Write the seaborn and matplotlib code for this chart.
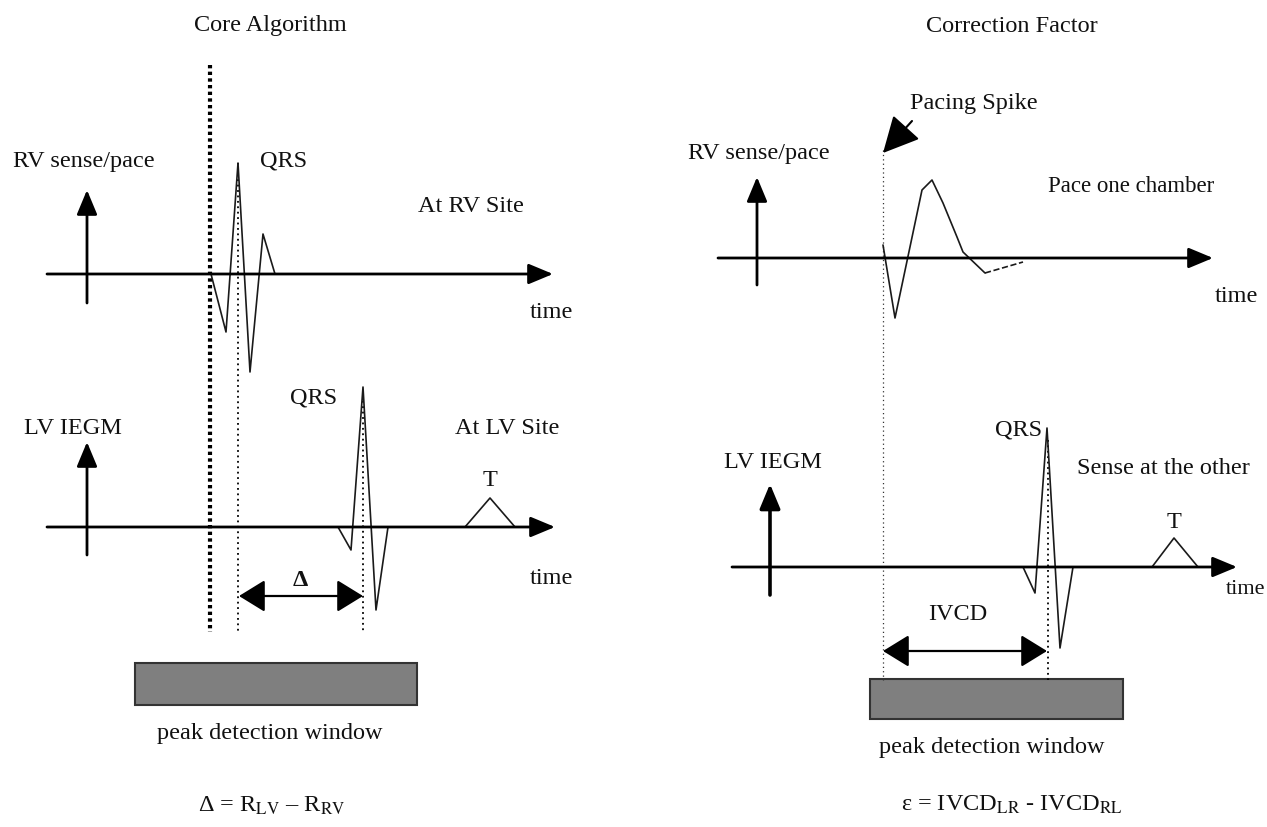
import matplotlib
matplotlib.use("Agg")
import matplotlib.pyplot as plt
import seaborn as sns
import pandas as pd
from matplotlib.patches import Rectangle

sns.set_theme(style="white")
plt.rcParams["font.family"] = ["Liberation Serif", "DejaVu Serif"]
plt.rcParams["mathtext.fontset"] = "stix"

# ---------------- data (diagram coordinates, pixel space, y downwards) ----------------
# Core algorithm: RV electrogram
core_rv_t = [211, 226, 238, 250, 263, 275]
core_rv_v = [274, 332, 163, 372, 234, 274]
# Core algorithm: LV electrogram with T wave
core_lv_t = [338, 351, 363, 376, 388, 465, 490, 515]
core_lv_v = [527, 550, 387, 610, 527, 527, 498, 527]
# Correction factor: paced RV response (solid part, then dashed tail)
corr_rv_t = [883, 895, 922, 932, 943, 957, 963, 985]
corr_rv_v = [245, 318, 190, 180, 203, 237, 252, 273]
corr_rv_tail_t = [985, 1023]
corr_rv_tail_v = [273, 262]
# Correction factor: sensed LV response with T wave
corr_lv_t = [1023, 1035, 1047, 1060, 1073, 1152, 1174, 1198]
corr_lv_v = [567, 593, 428, 648, 567, 567, 538, 567]

titles = ["Core Algorithm", "Correction Factor"]
window_label = "peak detection window"

fig = plt.figure(figsize=(12.67, 8.27), dpi=100)
ax = fig.add_axes([0, 0, 1, 1])
ax.set_xlim(0, 1267)
ax.set_ylim(827, 0)
ax.axis("off")

K = "black"
FS = 17.5


def wave(t, v, **kw):
    df = pd.DataFrame({"t": t, "v": v})
    sns.lineplot(data=df, x="t", y="v", sort=False, estimator=None, ax=ax,
                 color=kw.pop("color", "#1a1a1a"), lw=kw.pop("lw", 1.2), **kw)


def arrow(x0, y0, x1, y1, style="-|>,head_length=0.6,head_width=0.25", lw=2.0, ms=25, color=K):
    ax.annotate("", xy=(x1, y1), xytext=(x0, y0),
                arrowprops=dict(arrowstyle=style, color=color, lw=lw,
                                mutation_scale=ms, shrinkA=0, shrinkB=0))


def txt(x, y, s, ha="left", fs=FS, **kw):
    ax.text(x, y, s, ha=ha, va="center", fontsize=fs, color="#111", **kw)


# ---------------- Left panel: Core Algorithm ----------------
txt(270, 26, titles[0], ha="center")
# dotted markers
ax.plot([210, 210], [65, 632], color=K, lw=3.0, ls=(0, (0.8, 0.8)))
ax.plot([238, 238], [163, 632], color=K, lw=1.3, ls=(0, (1, 2)))
ax.plot([363, 363], [390, 632], color=K, lw=1.3, ls=(0, (1, 2)))

# RV axes
arrow(47, 274, 553, 274)
arrow(87, 303, 87, 190)
wave(core_rv_t, core_rv_v)
txt(13, 161, "RV sense/pace")
txt(260, 161, "QRS")
txt(418, 206, "At RV Site")
txt(530, 312, "time")

# LV axes
arrow(47, 527, 555, 527)
arrow(87, 555, 87, 442)
wave(core_lv_t, core_lv_v)
txt(24, 429, "LV IEGM")
txt(290, 398, "QRS")
txt(455, 429, "At LV Site")
txt(490, 481, "T", ha="center")
txt(530, 578, "time")

# Delta arrow
arrow(239, 596, 363, 596, style="<|-|>,head_length=0.65,head_width=0.4", lw=1.6, ms=25)
txt(300, 581, "Δ", ha="center", fontweight="bold")

# window
ax.add_patch(Rectangle((135, 663), 282, 42, facecolor="#7f7f7f", edgecolor="#333", lw=1.5))
txt(270, 734, window_label, ha="center")
txt(272, 806, "Δ = R$_{\\mathrm{LV}}$ – R$_{\\mathrm{RV}}$", ha="center")

# ---------------- Right panel: Correction Factor ----------------
txt(1012, 26, titles[1], ha="center")
ax.plot([883, 883], [150, 680], color="#333", lw=0.9, ls=(0, (1, 2.5)))
ax.plot([1048, 1048], [440, 680], color=K, lw=1.3, ls=(0, (1, 2)))

txt(910, 104, "Pacing Spike")
arrow(912, 121, 883, 153, style="-|>,head_length=0.9,head_width=0.45", lw=1.5, ms=25)

arrow(718, 258, 1213, 258)
arrow(757, 285, 757, 177)
wave(corr_rv_t, corr_rv_v)
wave(corr_rv_tail_t, corr_rv_tail_v, ls="--")
txt(688, 153, "RV sense/pace")
txt(1048, 186, "Pace one chamber", fs=16.5)
txt(1215, 296, "time")

arrow(732, 567, 1237, 567)
arrow(770, 595, 770, 484, lw=2.6)
wave(corr_lv_t, corr_lv_v)
txt(724, 462, "LV IEGM")
txt(995, 430, "QRS")
txt(1077, 469, "Sense at the other")
txt(1174, 522, "T", ha="center")
txt(1226, 590, "time", fs=16)

arrow(883, 651, 1047, 651, style="<|-|>,head_length=0.65,head_width=0.4", lw=1.6, ms=25)
txt(958, 614, "IVCD", ha="center")

ax.add_patch(Rectangle((870, 679), 253, 40, facecolor="#7f7f7f", edgecolor="#333", lw=1.5))
txt(992, 747, window_label, ha="center")
txt(1012, 805, "ε = IVCD$_{\\mathrm{LR}}$ - IVCD$_{\\mathrm{RL}}$", ha="center")

fig.savefig("out.png", dpi=100)
